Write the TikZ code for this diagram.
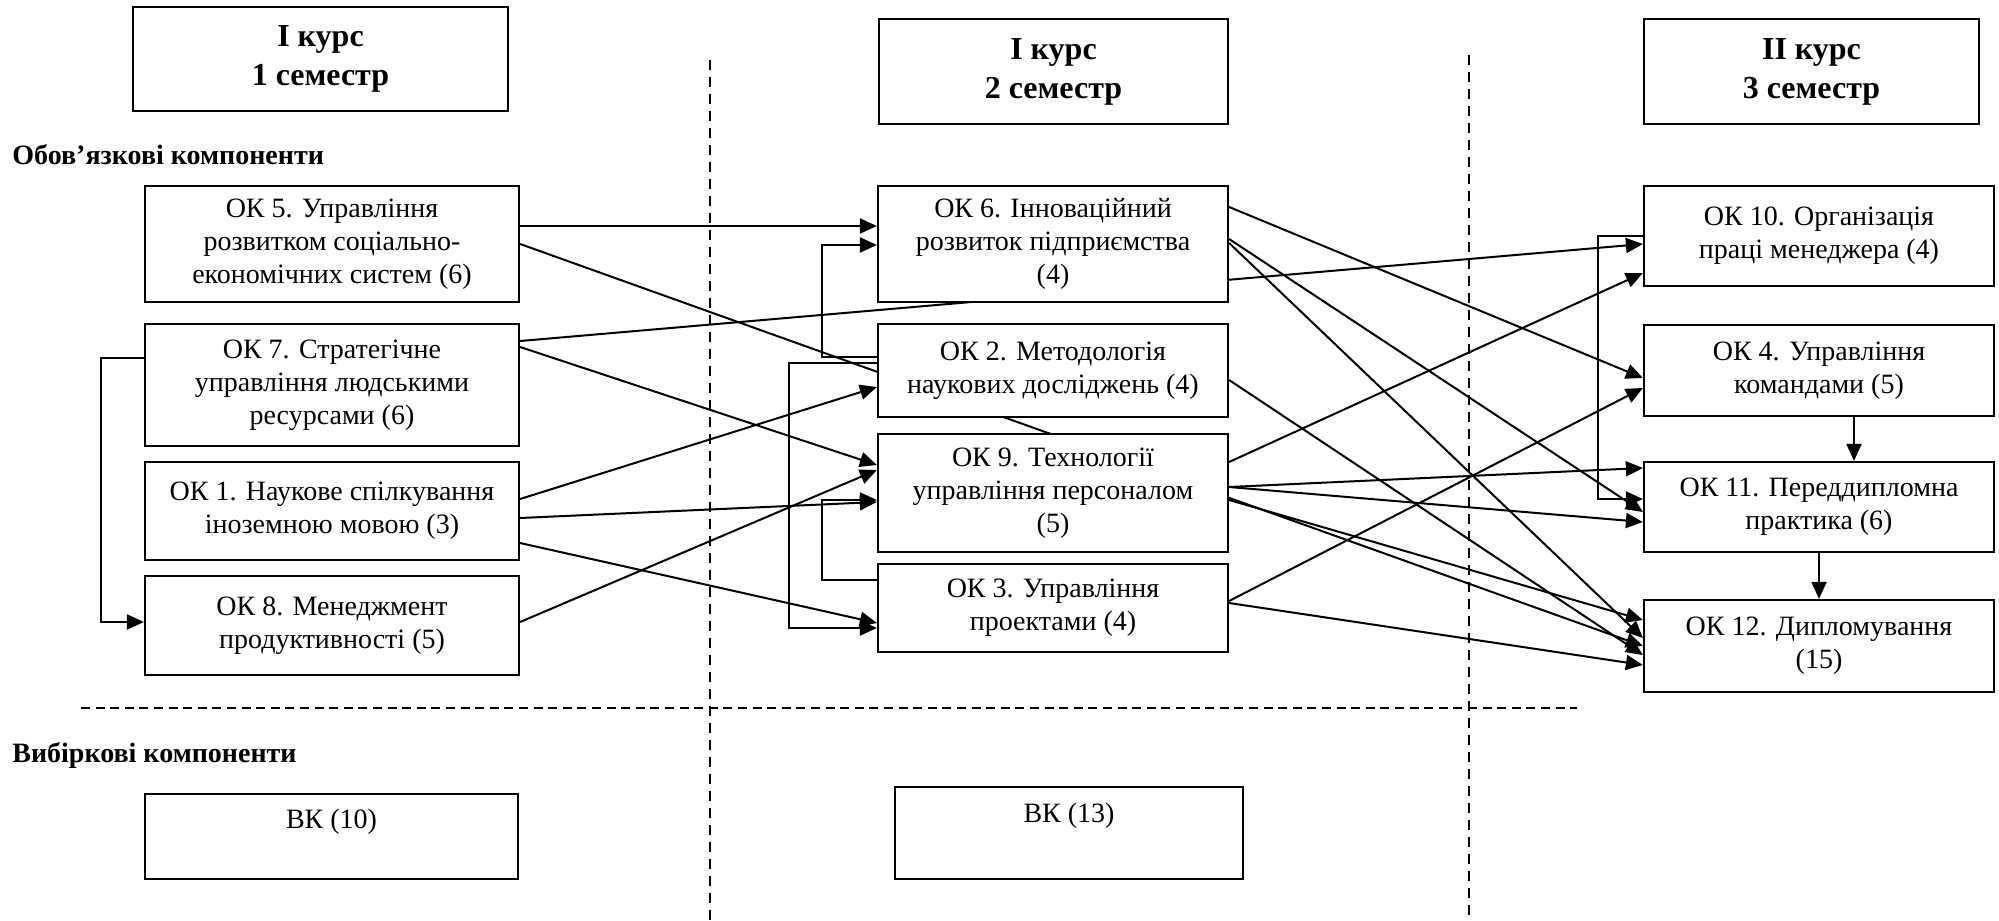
\documentclass[tikz,border=0pt]{standalone}
\usepackage{fontspec}
\setmainfont{Liberation Serif}
\usetikzlibrary{arrows.meta,backgrounds}

\begin{document}
\begin{tikzpicture}[x=0.5pt,y=-0.5pt,>={Triangle[length=8.5pt,width=7.5pt]},
  okbox/.style={draw,line width=1.1pt,fill=white,inner sep=0pt,align=center,font=\fontsize{14pt}{16.5pt}\selectfont},
  headbox/.style={draw,line width=1.1pt,fill=white,inner sep=0pt,align=center,font=\fontsize{16pt}{19.5pt}\selectfont\bfseries},
  seclabel/.style={anchor=west,inner sep=0pt,font=\fontsize{14pt}{16.5pt}\selectfont\bfseries},
  link/.style={->,line width=1pt},
  divider/.style={line width=0.7pt,dash pattern=on 5pt off 3.5pt}]
\useasboundingbox (0,0) rectangle (1999,921);
% semesters
\node[headbox,minimum width=187.5pt,minimum height=52pt] (hd1) at (320.5,59) {І курс\\1 семестр};
\node[headbox,minimum width=174.5pt,minimum height=52.5pt] (hd2) at (1053.5,71.5) {І курс\\2 семестр};
\node[headbox,minimum width=167.5pt,minimum height=52.5pt] (hd3) at (1811.5,71.5) {ІІ курс\\3 семестр};
\node[seclabel] (oblig) at (12,155) {Обов’язкові компоненти};
\node[seclabel] (elect) at (12,755) {Вибіркові компоненти};
% 1 semester
\node[okbox,minimum width=187pt,minimum height=58pt] (ok5) at (332,244) {ОК 5. Управління\\розвитком соціально-\\економічних систем (6)};
\node[okbox,minimum width=187pt,minimum height=61pt] (ok7) at (332,385) {ОК 7. Стратегічне\\управління людськими\\ресурсами (6)};
\node[okbox,minimum width=187pt,minimum height=49pt] (ok1) at (332,511) {ОК 1. Наукове спілкування\\іноземною мовою (3)};
\node[okbox,minimum width=187pt,minimum height=49.5pt] (ok8) at (332,625.5) {ОК 8. Менеджмент\\продуктивності (5)};
% 2 semester
\node[okbox,minimum width=175pt,minimum height=58pt] (ok6) at (1053,244) {ОК 6. Інноваційний\\розвиток підприємства\\(4)};
\node[okbox,minimum width=175pt,minimum height=46.5pt] (ok2) at (1053,370.5) {ОК 2. Методологія\\наукових досліджень (4)};
\node[okbox,minimum width=175pt,minimum height=59pt] (ok9) at (1053,493) {ОК 9. Технології\\управління персоналом\\(5)};
\node[okbox,minimum width=175pt,minimum height=44pt] (ok3) at (1053,608) {ОК 3. Управління\\проектами (4)};
% 3 semester
\node[okbox,minimum width=175pt,minimum height=50pt] (ok10) at (1819,236) {ОК 10. Організація\\праці менеджера (4)};
\node[okbox,minimum width=175pt,minimum height=45.5pt] (ok4) at (1819,370.5) {ОК 4. Управління\\командами (5)};
\node[okbox,minimum width=175pt,minimum height=45pt] (ok11) at (1819,507) {ОК 11. Переддипломна\\практика (6)};
\node[okbox,minimum width=175pt,minimum height=46pt] (ok12) at (1819,646) {ОК 12. Дипломування\\(15)};
% elective
\node[okbox,minimum width=186.5pt,minimum height=42.5pt] (vk1) at (331.5,836.5) {};
\node[font=\fontsize{14pt}{16.5pt}\selectfont] (vk1txt) at ([yshift=-14.5pt]vk1.north) {ВК (10)};
\node[okbox,minimum width=174pt,minimum height=46pt] (vk2) at (1069,833) {};
\node[font=\fontsize{14pt}{16.5pt}\selectfont] (vk2txt) at ([yshift=-15pt]vk2.north) {ВК (13)};
% dividers
\draw[divider] (710,60) -- (710,921);
\draw[divider] (1469,55) -- (1469,921);
\draw[divider,dash pattern=on 4.5pt off 2.8pt] (81,708) -- (1577,708);
\begin{scope}[on background layer]
\draw[link] ([yshift=9pt]ok5.east) -- ([yshift=9pt]ok6.west);
\draw[link] (ok5.east) -- (ok12.west);
\draw[link] ([yshift=22pt]ok7.east) -- ([yshift=-4pt]ok10.west);
\draw[link] ([yshift=19pt]ok7.east) -- ([yshift=14pt]ok9.west);
\draw[link] ([yshift=6pt]ok1.east) -- ([yshift=-8.25pt]ok2.west);
\draw[link] ([yshift=-3.5pt]ok1.east) -- ([yshift=-4.5pt]ok9.west);
\draw[link] ([yshift=-16pt]ok1.east) -- ([yshift=-7.5pt]ok3.west);
\draw[link] ([yshift=1.75pt]ok8.east) -- ([yshift=11.5pt]ok9.west);
\draw[link] ([yshift=13.5pt]ok7.west) -- ++(-43,0) |- ([yshift=1.75pt]ok8.west);
\draw[link] ([yshift=6.75pt]ok2.west) -- ++(-55,0) |- ([yshift=-0.5pt]ok6.west);
\draw[link] ([yshift=3.75pt]ok2.west) -- ++(-88,0) |- ([yshift=-10pt]ok3.west);
\draw[link] ([yshift=14pt]ok3.west) -- ++(-55,0) |- ([yshift=-3.5pt]ok9.west);
\draw[link] ([yshift=18.5pt]ok6.east) -- ([yshift=-3.75pt]ok4.west);
\draw[link] ([yshift=2.5pt]ok6.east) -- ([yshift=-2.5pt]ok11.west);
\draw[link] ([yshift=0.5pt]ok6.east) -- ([yshift=4pt]ok12.west);
\draw[link] ([yshift=-4.75pt]ok2.east) -- ([yshift=-4.5pt]ok12.west);
\draw[link] ([yshift=15.5pt]ok9.east) -- ([yshift=-18.5pt]ok10.west);
\draw[link] ([yshift=3pt]ok9.east) -- ([yshift=19.5pt]ok11.west);
\draw[link] ([yshift=3pt]ok9.east) -- ([yshift=-7.5pt]ok11.west);
\draw[link] ([yshift=-3.5pt]ok9.east) -- ([yshift=13pt]ok12.west);
\draw[link] ([yshift=3.5pt]ok3.east) -- ([yshift=-8.75pt]ok4.west);
\draw[link] ([yshift=2.5pt]ok3.east) -- ([yshift=-9.5pt]ok12.west);
\draw[link] (ok10.west) -- ++(-45,0) |- ([yshift=4pt]ok11.west);
\draw[link] ([xshift=17.5pt]ok4.south) -- ([xshift=17.5pt]ok11.north);
\draw[link] (ok11) -- (ok12);
\end{scope}
\end{tikzpicture}
\end{document}
